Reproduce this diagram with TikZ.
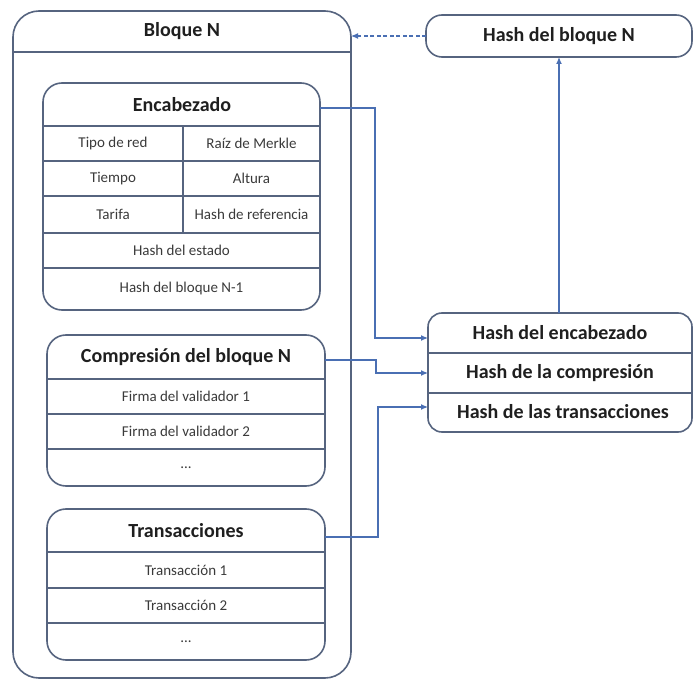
\documentclass[tikz,border=0pt]{standalone}
\usepackage{fontspec}
\setmainfont{Carlito}
\usetikzlibrary{arrows.meta}
\definecolor{frame}{HTML}{56647F}
\definecolor{link}{HTML}{4A6FB3}
\definecolor{ink}{HTML}{1F1F1F}
\definecolor{soft}{HTML}{3A3A3A}

\begin{document}
\begin{tikzpicture}[x=1pt,y=-1pt,
  panel/.style={draw=frame, line width=1.6pt, inner sep=0pt, outer sep=0pt, anchor=north west},
  divider/.style={draw=frame, line width=1.2pt},
  title/.style={font=\bfseries\fontsize{20}{23}\selectfont, text=ink, inner sep=0pt},
  cell/.style={font=\fontsize{15}{18}\selectfont, text=soft, inner sep=0pt},
  link/.style={draw=link, line width=1.2pt, -{Latex[length=7pt,width=6pt]}},
  dlink/.style={link, dashed, dash pattern=on 4pt off 2.5pt},
]
\useasboundingbox (0,0) rectangle (694,679);

% ---------- block N (outer frame) ----------
\node[panel, rounded corners=26pt, minimum width=338pt, minimum height=667pt] (blk) at (13,11) {};
\draw[divider] (13,52) -- (351,52);
\node[title] (blkT) at (182,31) {Bloque N};

% ---------- header ----------
\node[panel, rounded corners=19pt, minimum width=277pt, minimum height=227pt] (enc) at (43,83) {};
\node[title] (encT) at (182,105) {Encabezado};
\foreach \yy in {126,161,196,233,268} \draw[divider] (43,\yy) -- (320,\yy);
\draw[divider] (183,126) -- (183,233);
\node[cell] (c1) at (113,143.5) {Tipo de red};
\node[cell] (c2) at (251.5,143.5) {Raíz de Merkle};
\node[cell] (c3) at (113,178.5) {Tiempo};
\node[cell] (c4) at (251.5,178.5) {Altura};
\node[cell] (c5) at (113,214.5) {Tarifa};
\node[cell] (c6) at (251.5,214.5) {Hash de referencia};
\node[cell] (c7) at (181.5,250.5) {Hash del estado};
\node[cell] (c8) at (181.5,289) {Hash del bloque N-1};

% ---------- compression ----------
\node[panel, rounded corners=19pt, minimum width=278pt, minimum height=151pt] (cmp) at (47,335) {};
\node[title] (cmpT) at (186,357) {Compresión del bloque N};
\foreach \yy in {379,414,449} \draw[divider] (47,\yy) -- (325,\yy);
\node[cell] (f1) at (186,396.5) {Firma del validador 1};
\node[cell] (f2) at (186,431.5) {Firma del validador 2};
\node[cell] (f3) at (186,467.5) {...};

% ---------- transactions ----------
\node[panel, rounded corners=19pt, minimum width=278pt, minimum height=151pt] (trx) at (47,509) {};
\node[title] (trxT) at (186,531) {Transacciones};
\foreach \yy in {552,588,623} \draw[divider] (47,\yy) -- (325,\yy);
\node[cell] (t1) at (186,570) {Transacción 1};
\node[cell] (t2) at (186,605.5) {Transacción 2};
\node[cell] (t3) at (186,641.5) {...};

% ---------- block hash ----------
\node[panel, rounded corners=16pt, minimum width=266pt, minimum height=42pt] (hbn) at (426,15) {};
\node[title] (hbnT) at (559,36) {Hash del bloque N};

% ---------- hash table ----------
\node[panel, rounded corners=14pt, minimum width=264pt, minimum height=119pt] (hsh) at (428,313) {};
\draw[divider] (428,353) -- (692,353);
\draw[divider] (428,393) -- (692,393);
\node[title] (hEnc) at (560,333) {Hash del encabezado};
\node[title] (hCmp) at (560,373) {Hash de la compresión};
\node[title] (hTrx) at (563,412) {Hash de las transacciones};

% ---------- connectors ----------
\coordinate (busA) at (375,108);
\coordinate (busB) at (376,360);
\coordinate (busC) at (378,537);
\coordinate (inA) at (428,338);
\coordinate (inB) at (428,373);
\coordinate (inC) at (428,407);

\draw[link] (busA -| enc.east) -- (busA) |- (inA);
\draw[link] (busB -| cmp.east) -- (busB) |- (inB);
\draw[link] (busC -| trx.east) -- (busC) |- (inC);
\draw[link] (hsh.north -| hbn.south) -- (hbn.south);
\draw[dlink] (hbn.west) -- (hbn.west -| blk.east);
\end{tikzpicture}
\end{document}
